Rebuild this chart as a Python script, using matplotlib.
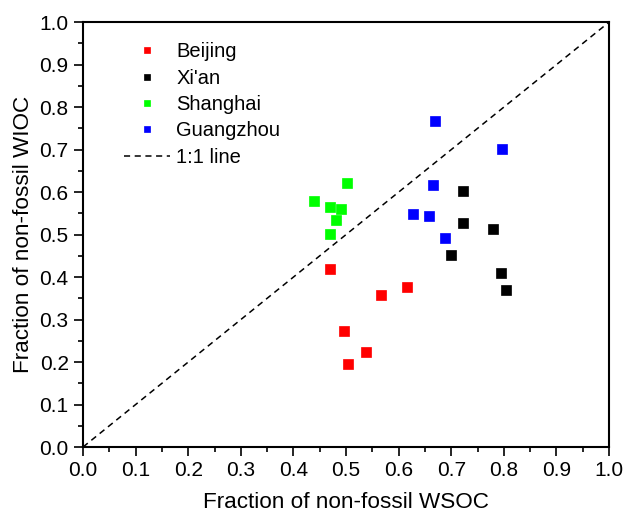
import matplotlib
matplotlib.use("Agg")
from matplotlib import pyplot as plt
import numpy as np

plt.rcParams['font.family'] = ['Liberation Sans', 'DejaVu Sans']

# fraction of non-fossil WSOC (x) and WIOC (y)
beijing_x = [0.470, 0.566, 0.615, 0.497, 0.538, 0.504]
beijing_y = [0.419, 0.357, 0.377, 0.273, 0.223, 0.196]

xian_x = [0.723, 0.723, 0.780, 0.699, 0.795, 0.804]
xian_y = [0.603, 0.528, 0.513, 0.452, 0.409, 0.369]

shanghai_x = [0.501, 0.440, 0.470, 0.490, 0.480, 0.470]
shanghai_y = [0.622, 0.578, 0.564, 0.560, 0.535, 0.501]

guangzhou_x = [0.669, 0.797, 0.666, 0.627, 0.658, 0.688]
guangzhou_y = [0.767, 0.702, 0.616, 0.548, 0.544, 0.492]

series = [('Beijing', beijing_x, beijing_y, '#ff0000'),
          ("Xi'an", xian_x, xian_y, '#000000'),
          ('Shanghai', shanghai_x, shanghai_y, '#00ff00'),
          ('Guangzhou', guangzhou_x, guangzhou_y, '#0000ff')]

fig = plt.figure(figsize=(6.27, 5.15), dpi=100)
ax = fig.add_axes([0.1324, 0.132, 0.839, 0.825])

for name, xs, ys, col in series:
    ax.plot(xs, ys, linestyle='none', marker='s', ms=6.8, mfc=col, mec=col,
            mew=0.5, label=name, zorder=3)

ax.plot([0, 1], [0, 1], 'k--', lw=1.1, dashes=(4, 3), label='1:1 line', zorder=2)

ax.set_xlim(0, 1)
ax.set_ylim(0, 1)
ax.set_xticks(np.arange(0, 1.01, 0.1))
ax.set_yticks(np.arange(0, 1.01, 0.1))
ax.set_xticks(np.arange(0.05, 1, 0.1), minor=True)
ax.set_yticks(np.arange(0.05, 1, 0.1), minor=True)
ax.xaxis.set_major_formatter(matplotlib.ticker.FormatStrFormatter('%.1f'))
ax.yaxis.set_major_formatter(matplotlib.ticker.FormatStrFormatter('%.1f'))
ax.tick_params(which='both', direction='out', labelsize=15, width=1.2)
ax.tick_params(which='major', length=6.3, pad=4)
ax.tick_params(which='minor', length=3.5)
for s in ax.spines.values():
    s.set_linewidth(1.5)

ax.set_xlabel('Fraction of non-fossil WSOC', fontsize=16.2, labelpad=8.5)
ax.set_ylabel('Fraction of non-fossil WIOC', fontsize=16.2, labelpad=4)

ax.legend(loc='upper left', bbox_to_anchor=(0.078, 0.953), frameon=False,
          fontsize=14.5, handlelength=2.3, handletextpad=0.3, labelspacing=0.37,
          borderaxespad=0, borderpad=0, markerscale=0.7)

fig.savefig('out.png', dpi=100)
